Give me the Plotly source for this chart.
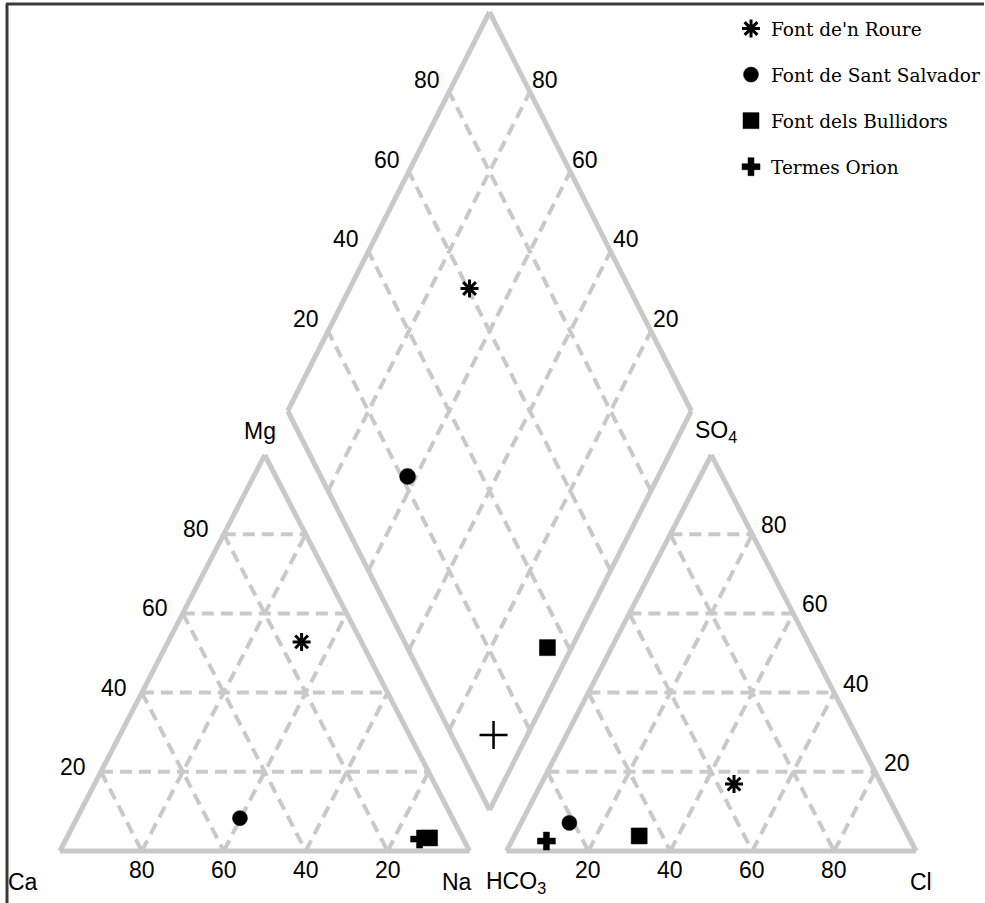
import plotly.graph_objects as go

# ---------------- data (percent) ----------------
samples = ["Font de'n Roure", "Font de Sant Salvador", "Font dels Bullidors", "Termes Orion"]
# cation triangle
ca = [14.6, 51.9, 8.1, 10.7]
mg = [52.8, 8.3, 3.3, 3.0]
na = [32.6, 39.8, 88.6, 86.3]
# anion triangle
hco3 = [36.0, 81.1, 65.7, 89.0]
so4 = [16.9, 7.1, 3.8, 2.5]
cl = [47.1, 11.8, 30.5, 8.5]
# diamond (Ca+Mg and SO4+Cl as plotted)
dia_camg = [70.3, 62.1, 6.0, 8.4]
dia_so4cl = [60.4, 21.5, 34.7, 10.4]
grid_levels = [20, 40, 60, 80]
tick_labels = ["20", "40", "60", "80"]

# ---------------- geometry / style ----------------
W, H = 985, 903
BASE_Y = 851
TRI_H = 396
LT = (60, 470)
RT = (507, 917)
DB = (490, 810)
DL = (288, 411)
DR = (692, 411)
GRAY = "#c9c9c9"
DASH = "12px,7px"
TICK_FONT = dict(family="Liberation Sans, Arial", size=23, color="black")


def tri_xy(x0x1, left, apex, right):
    x0, x1 = x0x1
    t = left + apex + right
    l, a, r = left / t, apex / t, right / t
    x = x0 * l + x1 * r + (x0 + x1) / 2 * a
    y = BASE_Y - a * TRI_H
    return x, y


def dia_xy(a, b):
    a, b = a / 100, b / 100
    x = DB[0] + a * (DL[0] - DB[0]) + b * (DR[0] - DB[0])
    y = DB[1] + a * (DL[1] - DB[1]) + b * (DR[1] - DB[1])
    return x, y


fig = go.Figure()


def add_lines(segs, dash=None, width=3.5):
    xs, ys = [], []
    for (p, q) in segs:
        xs += [p[0], q[0], None]
        ys += [p[1], q[1], None]
    fig.add_trace(go.Scatter(x=xs, y=ys, mode="lines", hoverinfo="skip", showlegend=False,
                             line=dict(color=GRAY, width=width, dash=dash)))


# grid lines
segs = []
for base in (LT, RT):
    for g in grid_levels:
        f = g
        r = 100 - f
        segs.append((tri_xy(base, r, f, 0), tri_xy(base, 0, f, r)))
        segs.append((tri_xy(base, f, r, 0), tri_xy(base, f, 0, r)))
        segs.append((tri_xy(base, r, 0, f), tri_xy(base, 0, r, f)))
for g in grid_levels:
    segs.append((dia_xy(g, 0), dia_xy(g, 100)))
    segs.append((dia_xy(0, g), dia_xy(100, g)))
add_lines(segs, dash=DASH, width=4)

# outlines
outl = []
for base in (LT, RT):
    a = tri_xy(base, 100, 0, 0)
    b = tri_xy(base, 0, 0, 100)
    c = tri_xy(base, 0, 100, 0)
    outl += [(a, b), (b, c), (c, a)]
d0, d1, d2, d3 = dia_xy(0, 0), dia_xy(100, 0), dia_xy(100, 100), dia_xy(0, 100)
outl += [(d0, d1), (d1, d2), (d2, d3), (d3, d0)]
add_lines(outl, width=5)

# markers
tri_sym = ["asterisk-open", "circle", "square", "cross"]
tri_size = [15, 15, 16, 15]
dia_sym = ["asterisk-open", "circle", "square", "cross-thin-open"]
dia_size = [15, 16, 16, 20]
for i, name in enumerate(samples):
    cx, cy = tri_xy(LT, ca[i], mg[i], na[i])
    ax, ay = tri_xy(RT, hco3[i], so4[i], cl[i])
    dx, dy = dia_xy(dia_camg[i], dia_so4cl[i])
    fig.add_trace(go.Scatter(
        x=[cx, ax], y=[cy, ay], mode="markers", name=name, legendgroup=name,
        hoverinfo="skip",
        marker=dict(symbol=tri_sym[i], size=tri_size[i], color="black",
                    line=dict(color="black", width=3 if i == 0 else 0.5))))
    fig.add_trace(go.Scatter(
        x=[dx], y=[dy], mode="markers", name=name, legendgroup=name, showlegend=False,
        hoverinfo="skip",
        marker=dict(symbol=dia_sym[i], size=dia_size[i], color="black",
                    line=dict(color="black", width=3 if i == 0 else (2.5 if i == 3 else 0.5)))))

# tick labels
ann = []
for g, t in zip(grid_levels, tick_labels):
    x, y = tri_xy(LT, g, 0, 100 - g)
    ann.append(dict(x=x, y=y + 19, text=t))
    x, y = tri_xy(LT, 100 - g, g, 0)
    ann.append(dict(x=x - 28, y=y - 5, text=t))
    x, y = tri_xy(RT, 100 - g, 0, g)
    ann.append(dict(x=x, y=y + 19, text=t))
    x, y = tri_xy(RT, 0, g, 100 - g)
    ann.append(dict(x=x + 22, y=y - 9, text=t))
    x, y = dia_xy(100, g)
    ann.append(dict(x=x - 22, y=y - 12, text=t))
    x, y = dia_xy(g, 100)
    ann.append(dict(x=x + 15, y=y - 12, text=t))

corner = [
    (tri_xy(LT, 100, 0, 0), -37, 31, "Ca"),
    (tri_xy(LT, 0, 0, 100), -13, 31, "Na"),
    (tri_xy(RT, 100, 0, 0), 10, 31, "HCO<sub>3</sub>"),
    (tri_xy(RT, 0, 0, 100), 5, 31, "Cl"),
    (tri_xy(LT, 0, 100, 0), -5, -24, "Mg"),
    (tri_xy(RT, 0, 100, 0), 5, -24, "SO<sub>4</sub>"),
]
for (p, ox, oy, t) in corner:
    ann.append(dict(x=p[0] + ox, y=p[1] + oy, text=t))

for a in ann:
    a.update(showarrow=False, font=TICK_FONT, xref="x", yref="y")

fig.update_layout(
    width=W, height=H, margin=dict(l=0, r=0, t=0, b=0),
    plot_bgcolor="white", paper_bgcolor="white",
    xaxis=dict(range=[0, W], visible=False, fixedrange=True),
    yaxis=dict(range=[H, 0], visible=False, fixedrange=True),
    annotations=ann,
    showlegend=True,
    legend=dict(x=732 / W, y=1 - 10 / H, xanchor="left", yanchor="top",
                font=dict(family="DejaVu Serif, Liberation Serif", size=18.5, color="black"),
                tracegroupgap=19, bgcolor="rgba(0,0,0,0)", itemsizing="trace"),
    shapes=[
        dict(type="line", xref="paper", yref="paper", x0=6 / W, x1=1, y0=1 - 4 / H, y1=1 - 4 / H,
             line=dict(color="#3a3a3a", width=3)),
        dict(type="line", xref="paper", yref="paper", x0=7 / W, x1=7 / W, y0=0, y1=1 - 4 / H,
             line=dict(color="#3a3a3a", width=3)),
    ],
)

fig.write_html("out.html", config={"displayModeBar": False, "staticPlot": True},
               post_script="document.body.style.margin='0';")
